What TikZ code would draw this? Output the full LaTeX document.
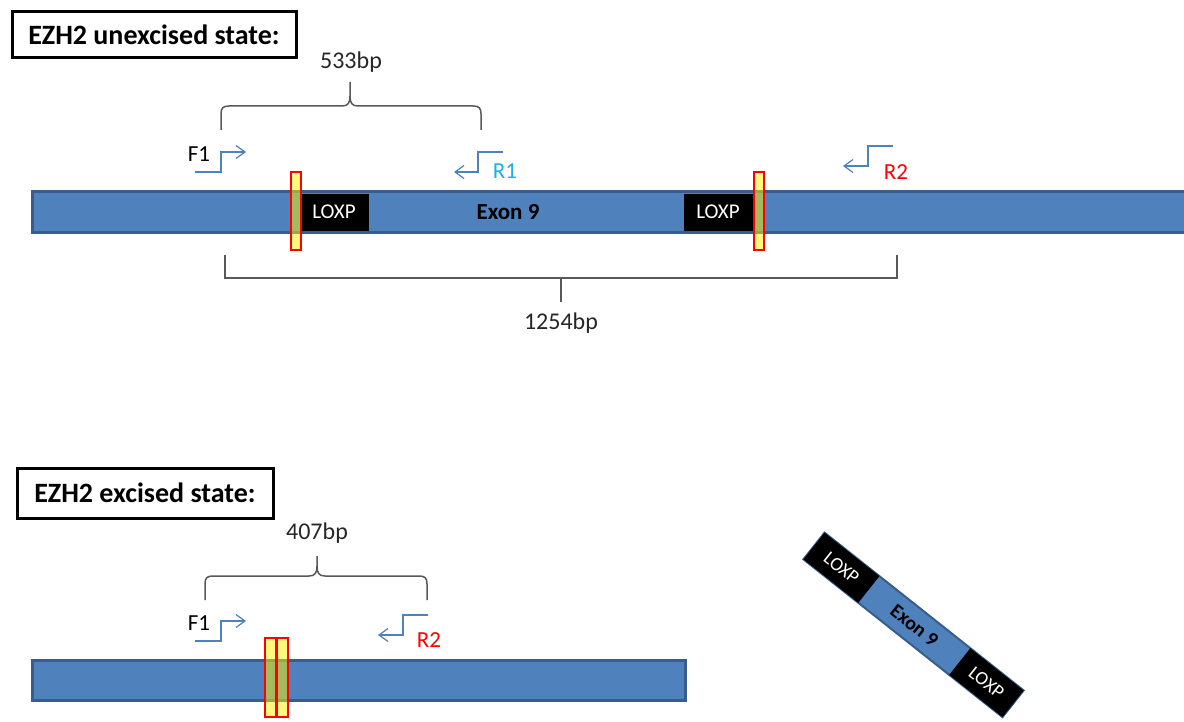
\documentclass[tikz,border=0pt]{standalone}
\usepackage{fontspec}
\setmainfont{Carlito}
\usetikzlibrary{arrows.meta}
\definecolor{barfill}{HTML}{4F81BD}
\definecolor{barline}{HTML}{385D8A}
\definecolor{primer}{HTML}{4F81BD}
\definecolor{braceg}{HTML}{595959}
\definecolor{rone}{HTML}{1FAEEA}
\tikzset{
  bar/.style={fill=barfill,draw=barline,line width=3pt},
  loxp/.style={fill=black},
  loxptxt/.style={text=white,font=\fontsize{21}{21}\selectfont,inner sep=0pt},
  exontxt/.style={text=black,font=\bfseries\fontsize{23}{23}\selectfont,inner sep=0pt},
  marker/.style={fill=yellow,fill opacity=0.5,draw=red,draw opacity=1,line width=2pt},
  primerarrow/.style={draw=primer,line width=1.2pt,-{Straight Barb[length=9pt,width=13pt,line width=1.2pt]}},
  plabel/.style={font=\fontsize{23}{23}\selectfont,inner sep=0pt},
  bplabel/.style={font=\fontsize{24}{24}\selectfont,inner sep=0pt,text=black!85},
  bracepath/.style={draw=braceg,line width=1.5pt},
  titletxt/.style={font=\bfseries\fontsize{28}{28}\selectfont,inner sep=0pt}
}
\begin{document}
\begin{tikzpicture}[x=1pt,y=-1pt]
\useasboundingbox (0,0) rectangle (1184,722);
\clip (0,0) rectangle (1184,722);
\fill[white] (0,0) rectangle (1184,722);

% ---------- titles
\draw[line width=3pt] (12,12) rectangle (296,58);
\node[titletxt] (t1) at (154,35) {EZH2 unexcised state:};
\draw[line width=3pt] (17,468) rectangle (273,518);
\node[titletxt] (t2) at (145,493) {EZH2 excised state:};

% ---------- unexcised bar
\draw[bar] (32,192) rectangle (1200,233);
\fill[loxp] (301,194) rectangle (369,231);
\fill[loxp] (684,194) rectangle (755,231);
\node[loxptxt] (lx1) at (334,212) {LOXP};
\node[loxptxt] (lx2) at (718,212) {LOXP};
\node[exontxt] (ex) at (508,212) {Exon 9};
\draw[marker] (291,172) rectangle (301,250);
\draw[marker] (754,172) rectangle (764,250);

% primers
\coordinate (f1a) at (195,172);
\draw[primerarrow] (f1a) -- (221,172) -- (221,152) -- (246,152);
\node[plabel] (f1) at (199,154) {F1};
\coordinate (r1a) at (503,152);
\draw[primerarrow] (r1a) -- (478,152) -- (478,172) -- (454,172);
\node[plabel,text=rone] (r1) at (505,171) {R1};
\coordinate (r2a) at (893,146);
\draw[primerarrow] (r2a) -- (868,146) -- (868,166) -- (843,166);
\node[plabel,text=red] (r2) at (896,172) {R2};

% 533bp brace
\draw[bracepath] (221,130) -- (221,114) .. controls (221,108) and (223,106) .. (229,106)
  -- (342,106) .. controls (348,106) and (350,103) .. (350,96) -- (350,82)
  -- (350,96) .. controls (350,103) and (352,106) .. (358,106)
  -- (473,106) .. controls (479,106) and (481,108) .. (481,114) -- (481,130);
\node[bplabel] (b533) at (351,62) {533bp};

% 1254bp bracket
\draw[bracepath] (225,255) -- (225,278) -- (897,278) -- (897,255);
\draw[bracepath] (561,278) -- (561,302);
\node[bplabel] (b1254) at (561,323) {1254bp};

% ---------- excised bar
\draw[bar] (32,660) rectangle (685,700);
\draw[marker] (265,638) rectangle (276,717);
\draw[marker] (277,638) rectangle (288,717);

\coordinate (f1b) at (195,641);
\draw[primerarrow] (f1b) -- (221,641) -- (221,621) -- (246,621);
\node[plabel] (f1x) at (199,623) {F1};
\coordinate (r2b) at (428,615);
\draw[primerarrow] (r2b) -- (403,615) -- (403,635) -- (378,635);
\node[plabel,text=red] (r2x) at (429,640) {R2};

% 407bp brace
\draw[bracepath] (205,600) -- (205,584) .. controls (205,578) and (207,576) .. (213,576)
  -- (309,576) .. controls (315,576) and (317,573) .. (317,566) -- (317,556)
  -- (317,566) .. controls (317,573) and (319,576) .. (325,576)
  -- (419,576) .. controls (425,576) and (427,578) .. (427,584) -- (427,600);
\node[bplabel] (b407) at (317,533) {407bp};

% ---------- excised fragment
\begin{scope}[shift={(814,546)},rotate=-38.4]
  \draw[bar,line width=2pt] (0,-17) rectangle (254,17);
  \fill[loxp] (0,-17) rectangle (70,17);
  \fill[loxp] (186,-17) rectangle (254,17);
  \node[loxptxt,font=\fontsize{19}{19}\selectfont,rotate=-38.4] (fl1) at (35,0) {LOXP};
  \node[exontxt,font=\bfseries\fontsize{20}{20}\selectfont,rotate=-38.4] (fex) at (128,0) {Exon 9};
  \node[loxptxt,font=\fontsize{19}{19}\selectfont,rotate=-38.4] (fl2) at (220,0) {LOXP};
\end{scope}
\end{tikzpicture}
\end{document}
